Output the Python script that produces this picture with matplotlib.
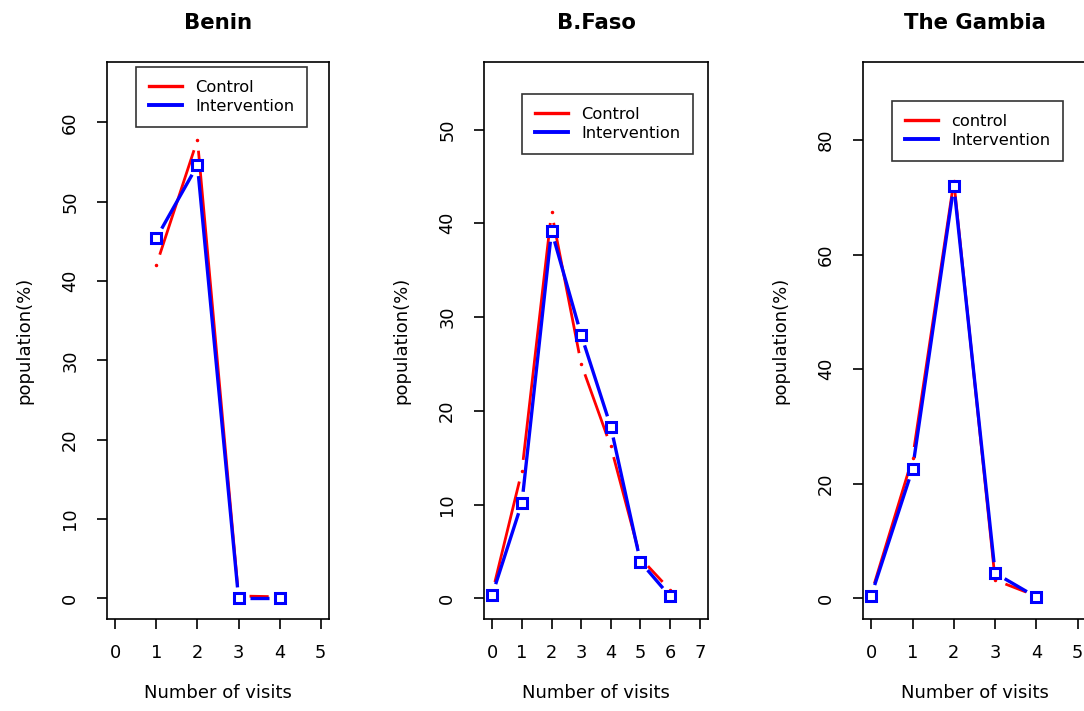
import numpy as np
import matplotlib
matplotlib.use('Agg')
import matplotlib.pyplot as plt
from matplotlib.lines import Line2D

# data (percent of population by number of visits)
countries = ['Benin', 'B.Faso', 'The Gambia']

benin_visits = [1, 2, 3, 4]
benin_control = [42.0, 57.8, 0.3, 0.2]
benin_interv = [45.4, 54.6, 0.0, 0.0]

bfaso_visits = [0, 1, 2, 3, 4, 5, 6]
bfaso_control = [0.6, 13.6, 41.2, 25.0, 16.2, 4.3, 0.9]
bfaso_interv = [0.4, 10.2, 39.2, 28.1, 18.3, 3.9, 0.2]

gambia_visits = [0, 1, 2, 3, 4]
gambia_control = [0.8, 24.5, 72.8, 3.2, 0.4]
gambia_interv = [0.5, 22.6, 72.0, 4.4, 0.2]

legend_labels = [['Control', 'Intervention'],
                 ['Control', 'Intervention'],
                 ['control', 'Intervention']]
x_limits = [(0, 5), (0, 7), (0, 5)]
y_limits = [(0, 65), (0, 55), (0, 90)]
y_steps = [10, 10, 20]

W, H = 1084, 711
fig = plt.figure(figsize=(W / 100, H / 100), dpi=100)

# panel boxes in pixels: left, top, right, bottom
boxes = [(107, 62, 329, 619), (484, 62, 708, 619), (863, 62, 1086, 619)]
# legend top-left corners in pixels
leg_pos = [(136, 67), (522, 94), (892, 101)]

series = [(benin_visits, benin_control, benin_interv),
          (bfaso_visits, bfaso_control, bfaso_interv),
          (gambia_visits, gambia_control, gambia_interv)]

RED = '#ff0000'
BLUE = '#0000ff'


def r_lim(lo, hi):
    # R style 4% padding
    d = (hi - lo) * 0.04
    return lo - d, hi + d


def gapped_line(ax, x, y, color, lw, gap=11):
    # R type="b": segments stop short of the points
    pts = ax.transData.transform(np.column_stack([x, y]))
    inv = ax.transData.inverted()
    for i in range(len(pts) - 1):
        p0, p1 = pts[i], pts[i + 1]
        d = p1 - p0
        L = np.hypot(d[0], d[1])
        if L <= 2 * gap:
            continue
        u = d / L
        seg = inv.transform(np.array([p0 + u * gap, p1 - u * gap]))
        ax.plot(seg[:, 0], seg[:, 1], color=color, lw=lw,
                solid_capstyle='butt', zorder=2)


for k, name in enumerate(countries):
    l, t, r, b = boxes[k]
    ax = fig.add_axes([l / W, 1 - b / H, (r - l) / W, (b - t) / H])
    ax.set_xlim(*r_lim(*x_limits[k]))
    ax.set_ylim(*r_lim(*y_limits[k]))
    ax.set_xticks(range(x_limits[k][0], x_limits[k][1] + 1))
    ax.set_yticks(np.arange(0, y_limits[k][1] + 1, y_steps[k]))

    for s in ax.spines.values():
        s.set_linewidth(1.2)
    ax.tick_params(axis='both', direction='out', length=7, width=1.2,
                   labelsize=12.8)
    ax.tick_params(axis='x', pad=11)
    ax.tick_params(axis='y', pad=13, labelrotation=90)
    for lab in ax.get_yticklabels():
        lab.set_va('center')

    ax.set_title(name, fontsize=15.3, fontweight='bold', pad=24)
    ax.set_xlabel('Number of visits', fontsize=13, labelpad=16)
    ax.set_ylabel('population(%)', fontsize=13, labelpad=20)

    vx, ctrl, intv = series[k]
    gapped_line(ax, vx, ctrl, RED, 2.0)
    ax.plot(vx, ctrl, ls='none', marker='.', ms=3, color=RED, zorder=3)
    gapped_line(ax, vx, intv, BLUE, 2.4)
    ax.plot(vx, intv, ls='none', marker='s', ms=7, mfc='white',
            mec=BLUE, mew=2.2, zorder=4)

    handles = [Line2D([], [], color=RED, lw=2.4),
               Line2D([], [], color=BLUE, lw=2.8)]
    lx, ly = leg_pos[k]
    leg = ax.legend(handles, legend_labels[k], loc='upper left',
                    bbox_to_anchor=(lx / W, 1 - ly / H),
                    bbox_transform=fig.transFigure,
                    fontsize=11.7, frameon=True, fancybox=False,
                    borderpad=0.8, labelspacing=0.22, handlelength=2.0,
                    handletextpad=0.85, borderaxespad=0)
    leg.get_frame().set_edgecolor('black')
    leg.get_frame().set_linewidth(1.2)

fig.savefig('out.png', dpi=100)
